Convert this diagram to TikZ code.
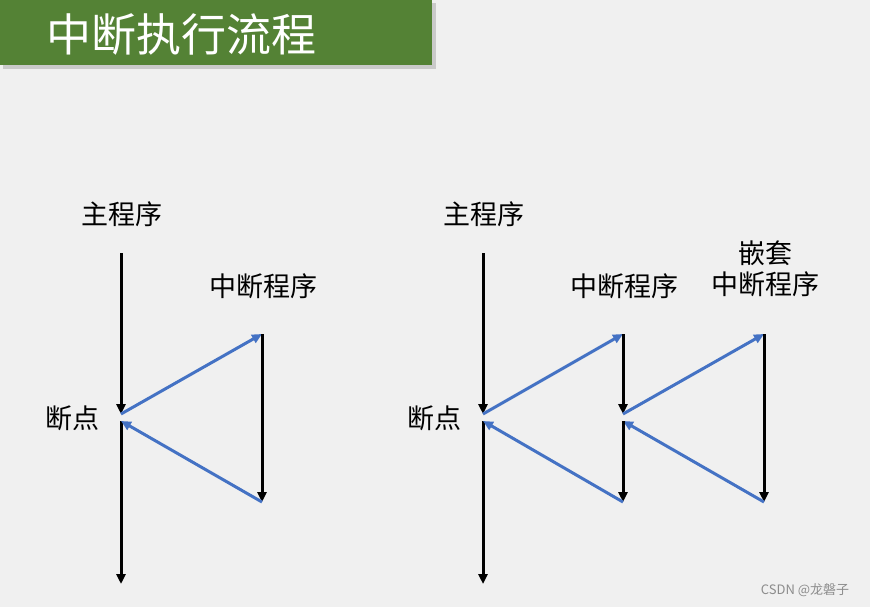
\documentclass[tikz,border=0pt]{standalone}
\usepackage{fontspec}
\setmainfont{Noto Sans CJK SC}
\usepackage{xcolor}
\definecolor{bg}{RGB}{240,240,240}
\definecolor{titlegreen}{RGB}{84,130,53}
\definecolor{flowblue}{RGB}{68,114,196}
\usetikzlibrary{arrows.meta,positioning,calc}
\tikzset{
  lbl/.style={font=\fontsize{27}{31}\selectfont,inner sep=0pt,align=center},
  mainflow/.style={-{Triangle[length=10pt,width=9pt]},line width=3pt,draw=black},
  jump/.style={-{Triangle[length=10pt,width=9pt]},line width=3pt,draw=flowblue},
}
\begin{document}
\begin{tikzpicture}[x=1pt,y=-1pt]
\useasboundingbox (0,0) rectangle (870,607);
\fill[bg] (0,0) rectangle (870,607);
% title bar
\fill[black!30,opacity=.6] (3,3) rectangle (436,69);
\fill[titlegreen] (0,0) rectangle (432,65);
\node[anchor=west,text=white,font=\fontsize{45}{50}\selectfont,inner sep=0pt] (title) at (46,34) {中断执行流程};

% left: single interrupt
\node[lbl] (mainA) at (122,214) {主程序};
\node[lbl] (isrA) at (263,286) {中断程序};
\node[lbl] (bpA) at (72,418) {断点};
\coordinate (a0) at (121,253);
\coordinate (a1) at (121,414);
\coordinate (a2) at (121,421);
\coordinate (a3) at (121,584);
\coordinate (a4) at (262,334);
\coordinate (a5) at (262,502);
\draw[mainflow] (a0) -- (a1);
\draw[mainflow] (a2) -- (a3);
\draw[jump] (a1) -- (a4);
\draw[mainflow] (a4) -- (a5);
\draw[jump] (a5) -- (a2);

% right: nested interrupt
\node[lbl] (mainB) at (484,214) {主程序};
\node[lbl] (isrB) at (624,286) {中断程序};
\node[lbl] (nestB) at (765,269) {嵌套\\中断程序};
\node[lbl] (bpB) at (434,418) {断点};
\coordinate (b0) at (483,253);
\coordinate (b1) at (483,414);
\coordinate (b2) at (483,421);
\coordinate (b3) at (483,584);
\coordinate (c0) at (623,334);
\coordinate (c1) at (623,414);
\coordinate (c2) at (623,421);
\coordinate (c3) at (623,502);
\coordinate (d0) at (764,334);
\coordinate (d1) at (764,502);
\draw[mainflow] (b0) -- (b1);
\draw[mainflow] (b2) -- (b3);
\draw[jump] (b1) -- (c0);
\draw[mainflow] (c0) -- (c1);
\draw[jump] (c1) -- (d0);
\draw[mainflow] (d0) -- (d1);
\draw[jump] (d1) -- (c2);
\draw[mainflow] (c2) -- (c3);
\draw[jump] (c3) -- (b2);

\node[text=black!45,font=\fontsize{13}{15}\selectfont,inner sep=0pt] (mark) at (805,590) {CSDN @龙磐子};
\end{tikzpicture}
\end{document}
